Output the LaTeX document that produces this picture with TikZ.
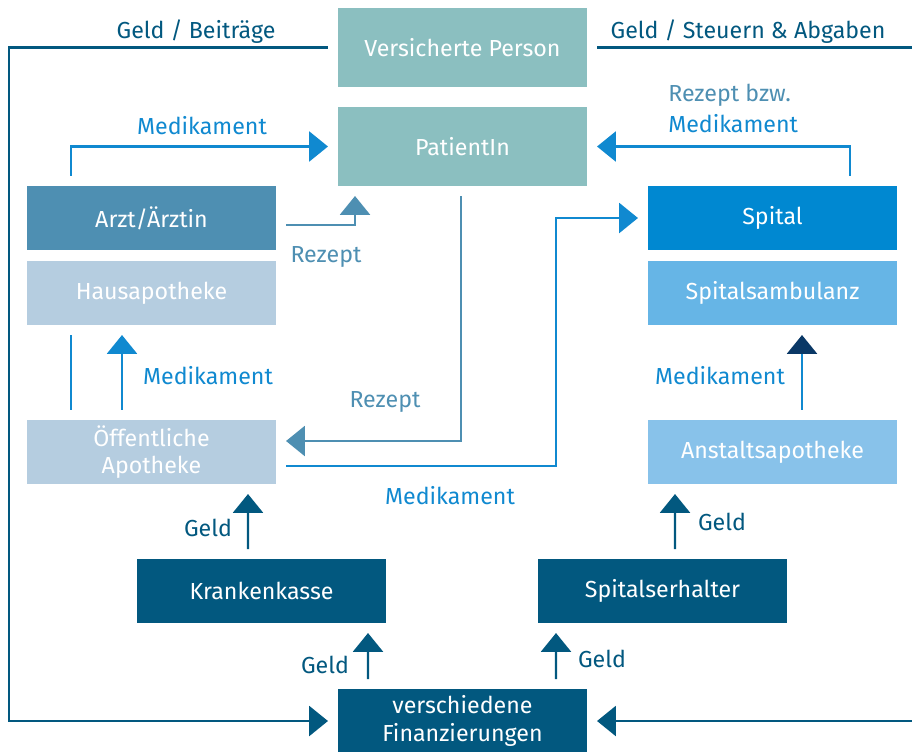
\documentclass[tikz,border=0pt]{standalone}
\usepackage{fontspec}
\setmainfont{Fira Sans}
\usetikzlibrary{arrows.meta,calc,positioning}
\definecolor{versgrau}{HTML}{8BBFC0}
\definecolor{arztblau}{HTML}{4E8FB2}
\definecolor{apohell}{HTML}{B5CDE0}
\definecolor{spitalblau}{HTML}{0088D1}
\definecolor{ambblau}{HTML}{66B5E6}
\definecolor{anstblau}{HTML}{88C2EA}
\definecolor{geldblau}{HTML}{02587F}
\definecolor{medblau}{HTML}{1089D0}
\definecolor{tipnavy}{HTML}{0A3866}

\tikzset{
  box/.style={rectangle, minimum width=6.225cm, minimum height=1.6cm,
    inner sep=0pt, outer sep=0.25cm, text=white, align=center,
    font=\fontsize{16.5}{19.5}\selectfont},
  tall/.style={box, minimum height=1.975cm},
  lbl/.style={font=\fontsize{16.5}{19.5}\selectfont, inner sep=0pt},
  tip/.style={-{Triangle[width=0.75cm,length=0.47cm]}},
  geld/.style={geldblau, line width=1.5pt},
  med/.style={medblau, line width=1.5pt},
  rez/.style={arztblau, line width=1.5pt}
}

\begin{document}
\begin{tikzpicture}[x=0.025cm,y=-0.025cm]
\useasboundingbox (0,0) rectangle (912,751);

% Kaestchen
\node[tall, fill=versgrau] (vp) at (462.5,47.5) {Versicherte Person};
\node[tall, fill=versgrau] (pat) at (462.5,146.5) {PatientIn};
\node[box, fill=arztblau] (arzt) at (151.5,218) {Arzt/Ärztin};
\node[box, fill=apohell] (haus) at (151.5,293) {Hausapotheke};
\node[box, fill=apohell] (oeff) at (151.5,452) {Öffentliche\\Apotheke};
\node[box, fill=spitalblau] (spital) at (772.5,218) {Spital};
\node[box, fill=ambblau] (amb) at (772.5,293) {Spitalsambulanz};
\node[box, fill=anstblau] (anst) at (772.5,452) {Anstaltsapotheke};
\node[box, fill=geldblau] (kk) at (261.5,591) {Krankenkasse};
\node[box, fill=geldblau] (erh) at (662.5,591) {Spitalserhalter};
\node[box, fill=geldblau] (fin) at (462.5,721) {verschiedene\\Finanzierungen};

% Geldfluss aussen
\draw[geld, tip] (vp.west) -- ++(-319,0) |- (fin.west);
\draw[geld, tip] (vp.east) -- ++(330,0) |- (fin.east);
\node[lbl, geldblau] (beitr) at (196,32) {Geld / Beiträge};
\node[lbl, geldblau] (steuer) at (748,32) {Geld / Steuern \& Abgaben};

% Medikamente und Rezepte
\draw[med, tip] ($(arzt.north)+(-80.5,0)$) |- (pat.west);
\node[lbl, medblau] (m1) at (202,126) {Medikament};
\draw[rez, tip] ($(arzt.east)+(0,7)$) -| ($(pat.south)+(-107.5,0)$);
\node[lbl, arztblau] (r1) at (326,257) {Rezept};
\draw[med, tip] ($(spital.north)+(77.5,0)$) |- (pat.east);
\node[lbl, arztblau, anchor=west] (r2) at (668,95) {Rezept bzw.};
\node[lbl, medblau, anchor=west] (m2) at (668,124) {Medikament};
\draw[med, tip] ($(oeff.east)+(0,14)$) -- ++(270,0) |- (spital.west);
\node[lbl, medblau] (m3) at (450,496) {Medikament};
\draw[rez, tip] ($(pat.south)+(-1.5,0)$) |- ($(oeff.east)+(0,-11)$);
\node[lbl, arztblau] (r3) at (385,402) {Rezept};
\draw[med] ($(oeff.north)+(-80.5,0)$) -- ($(haus.south)+(-80.5,0)$);
\draw[med, tip] ($(oeff.north)+(-29.5,0)$) -- ($(haus.south)+(-29.5,0)$);
\node[lbl, medblau] (m4) at (208,376) {Medikament};
\draw[med, -{Triangle[width=0.75cm,length=0.47cm,color=tipnavy]}]
  ($(anst.north)+(29.5,0)$) -- ($(amb.south)+(29.5,0)$);
\node[lbl, medblau] (m5) at (720,376) {Medikament};

% Geld nach oben
\draw[geld, tip] ($(kk.north)+(-13.5,0)$) -- ($(oeff.south)+(96.5,0)$);
\node[lbl, geldblau] (g1) at (208,528) {Geld};
\draw[geld, tip] ($(erh.north)+(12.5,0)$) -- ($(anst.south)+(-97.5,0)$);
\node[lbl, geldblau] (g2) at (722,522) {Geld};
\draw[geld, tip] ($(fin.north)+(-94.5,0)$) -- ($(kk.south)+(106.5,0)$);
\node[lbl, geldblau] (g3) at (325,665) {Geld};
\draw[geld, tip] ($(fin.north)+(93.5,0)$) -- ($(erh.south)+(-106.5,0)$);
\node[lbl, geldblau] (g4) at (602,659) {Geld};
\end{tikzpicture}
\end{document}
